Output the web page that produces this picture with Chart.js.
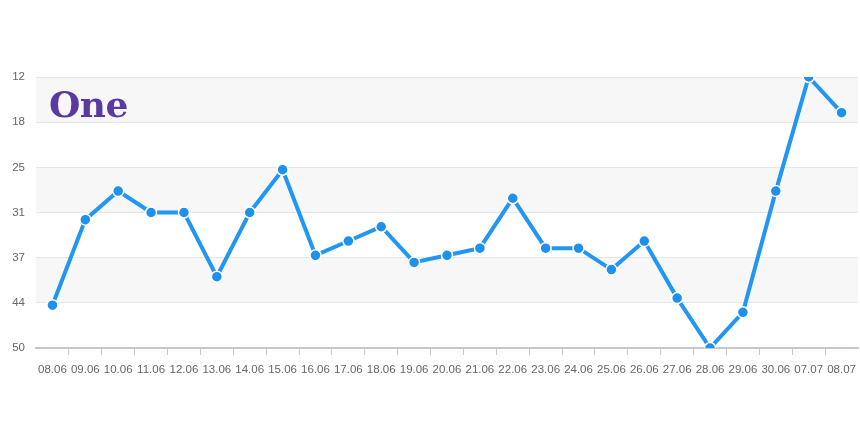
<!DOCTYPE html>
<html><head><meta charset="utf-8">
<script src="https://cdn.jsdelivr.net/npm/chart.js@4/dist/chart.umd.min.js"></script>
<style>
html,body{margin:0;padding:0;background:#fff;}
#wrap{position:relative;width:860px;height:430px;}
#logo{position:absolute;left:49px;top:86px;font:bold 36px "DejaVu Serif",serif;color:#5a3aa0;line-height:1;letter-spacing:-0.5px;}
</style></head><body>
<div id="wrap"><canvas id="c" width="860" height="430"></canvas><div id="logo">One</div></div>
<script>
const categories = ["08.06","09.06","10.06","11.06","12.06","13.06","14.06","15.06","16.06","17.06","18.06","19.06","20.06","21.06","22.06","23.06","24.06","25.06","26.06","27.06","28.06","29.06","30.06","07.07","08.07"];
const positions = [44,32,28,31,31,40,31,25,37,35,33,38,37,36,29,36,36,39,35,43,50,45,28,12,17];
const yTickLabels = [12,18,25,31,37,44,50];
const yMin = 12, yMax = 50;

const bands = {
  id: 'bands',
  beforeDraw(chart) {
    const {ctx, chartArea: a, scales: {y}} = chart;
    ctx.save();
    ctx.fillStyle = '#f7f7f7';
    const t = y.ticks;
    for (let i = 0; i < t.length - 1; i += 2) {
      const y1 = y.getPixelForValue(t[i].value), y2 = y.getPixelForValue(t[i + 1].value);
      ctx.fillRect(a.left, Math.min(y1, y2), a.right - a.left, Math.abs(y2 - y1));
    }
    ctx.restore();
  }
};

new Chart(document.getElementById('c'), {
  type: 'line',
  data: {
    labels: categories,
    datasets: [{
      data: positions,
      borderColor: '#2196f3',
      borderWidth: 4,
      pointRadius: 5.5,
      pointBorderWidth: 1.5,
      pointBorderColor: '#ffffff',
      pointBackgroundColor: '#1e90ee',
      tension: 0,
      fill: false
    }]
  },
  options: {
    responsive: false,
    devicePixelRatio: 1,
    animation: false,
    layout: {autoPadding: false, padding: {top: 77, right: 2, bottom: 52, left: 0}},
    plugins: {legend: {display: false}, tooltip: {enabled: false}},
    scales: {
      x: {
        offset: true,
        grid: {
          offset: true,
          drawOnChartArea: false,
          drawTicks: true,
          tickLength: 7,
          color: (c) => (c.index === undefined || c.index === 0 || c.index >= categories.length) ? 'rgba(0,0,0,0)' : '#c4c8cc'
        },
        border: {color: '#c4c8cc', width: 2},
        ticks: {
          color: '#666',
          font: {family: "'Liberation Sans', Arial, sans-serif", size: 11.5},
          padding: 8,
          maxRotation: 0,
          autoSkip: false
        },
        afterFit(scale) { scale.height = 30; scale.paddingLeft = 0; scale.paddingRight = 0; }
      },
      y: {
        reverse: true,
        min: yMin,
        max: yMax,
        afterBuildTicks(scale) {
          scale.ticks = yTickLabels.map((v, i) => ({value: yMin + i * (yMax - yMin) / (yTickLabels.length - 1)}));
        },
        grid: {color: '#e6e6e6', drawTicks: false, lineWidth: 1},
        border: {display: false},
        ticks: {
          color: '#666',
          font: {family: "'Liberation Sans', Arial, sans-serif", size: 11.5},
          padding: 11,
          callback: (v, i) => yTickLabels[i]
        },
        afterFit(scale) { scale.width = 36; scale.paddingTop = 0; scale.paddingBottom = 0; }
      }
    }
  },
  plugins: [bands]
});
</script>
</body></html>
